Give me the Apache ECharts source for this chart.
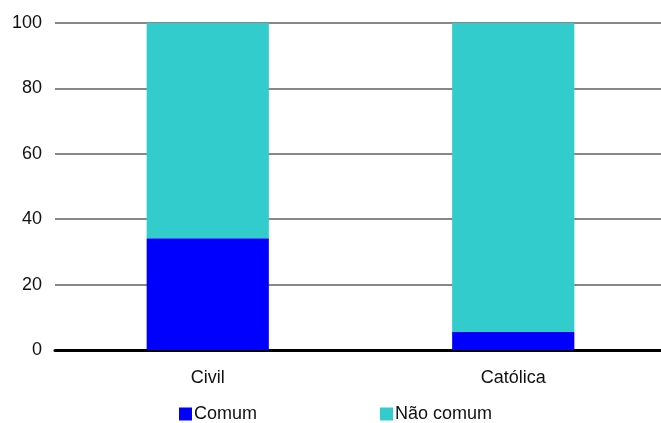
<!DOCTYPE html>
<html>
<head>
<meta charset="utf-8">
<script src="https://cdn.jsdelivr.net/npm/echarts@6/dist/echarts.min.js"></script>
<style>
  html, body { margin: 0; padding: 0; background: #fff; overflow: hidden; }
  #chart { width: 680px; height: 423px; }
</style>
</head>
<body>
<div id="chart"></div>
<script>
// Percentage split per marriage type
const categories = ['Civil', 'Católica'];
const comum = [34.2, 5.5];
const naoComum = [65.8, 94.5];
const yTicks = { min: 0, max: 100, interval: 20 };

const font = '"Liberation Sans", Arial, sans-serif';
const chart = echarts.init(document.getElementById('chart'));

// The plot area runs slightly past the right edge of the visible window
const legendStyle = {
  top: 405, itemWidth: 13, itemHeight: 13, icon: 'rect', itemGap: 0, padding: 0,
  textStyle: { fontFamily: font, fontSize: 18, color: '#111', padding: [0, 0, 0, -3] }
};

chart.setOption({
  animation: false,
  grid: { left: 55, top: 23, width: 611, height: 327, containLabel: false },
  legend: [
    Object.assign({ data: ['Comum'], left: 179 }, legendStyle),
    Object.assign({ data: ['Não comum'], left: 380 }, legendStyle)
  ],
  xAxis: {
    type: 'category',
    data: categories,
    axisLine: { show: true, lineStyle: { color: '#000', width: 3 } },
    axisTick: { show: false },
    axisLabel: { fontFamily: font, fontSize: 18, color: '#111', margin: 19 }
  },
  yAxis: {
    type: 'value',
    min: yTicks.min, max: yTicks.max, interval: yTicks.interval,
    axisLine: { show: false },
    axisTick: { show: false },
    axisLabel: { fontFamily: font, fontSize: 18, color: '#111', margin: 13 },
    splitLine: { lineStyle: { color: '#888', width: 2 } }
  },
  series: [
    {
      name: 'Comum', type: 'bar', stack: 'total', data: comum,
      barWidth: '40%', itemStyle: { color: '#0000FF' }
    },
    {
      name: 'Não comum', type: 'bar', stack: 'total', data: naoComum,
      barWidth: '40%', itemStyle: { color: '#33CCCC' }
    }
  ]
});
</script>
</body>
</html>
